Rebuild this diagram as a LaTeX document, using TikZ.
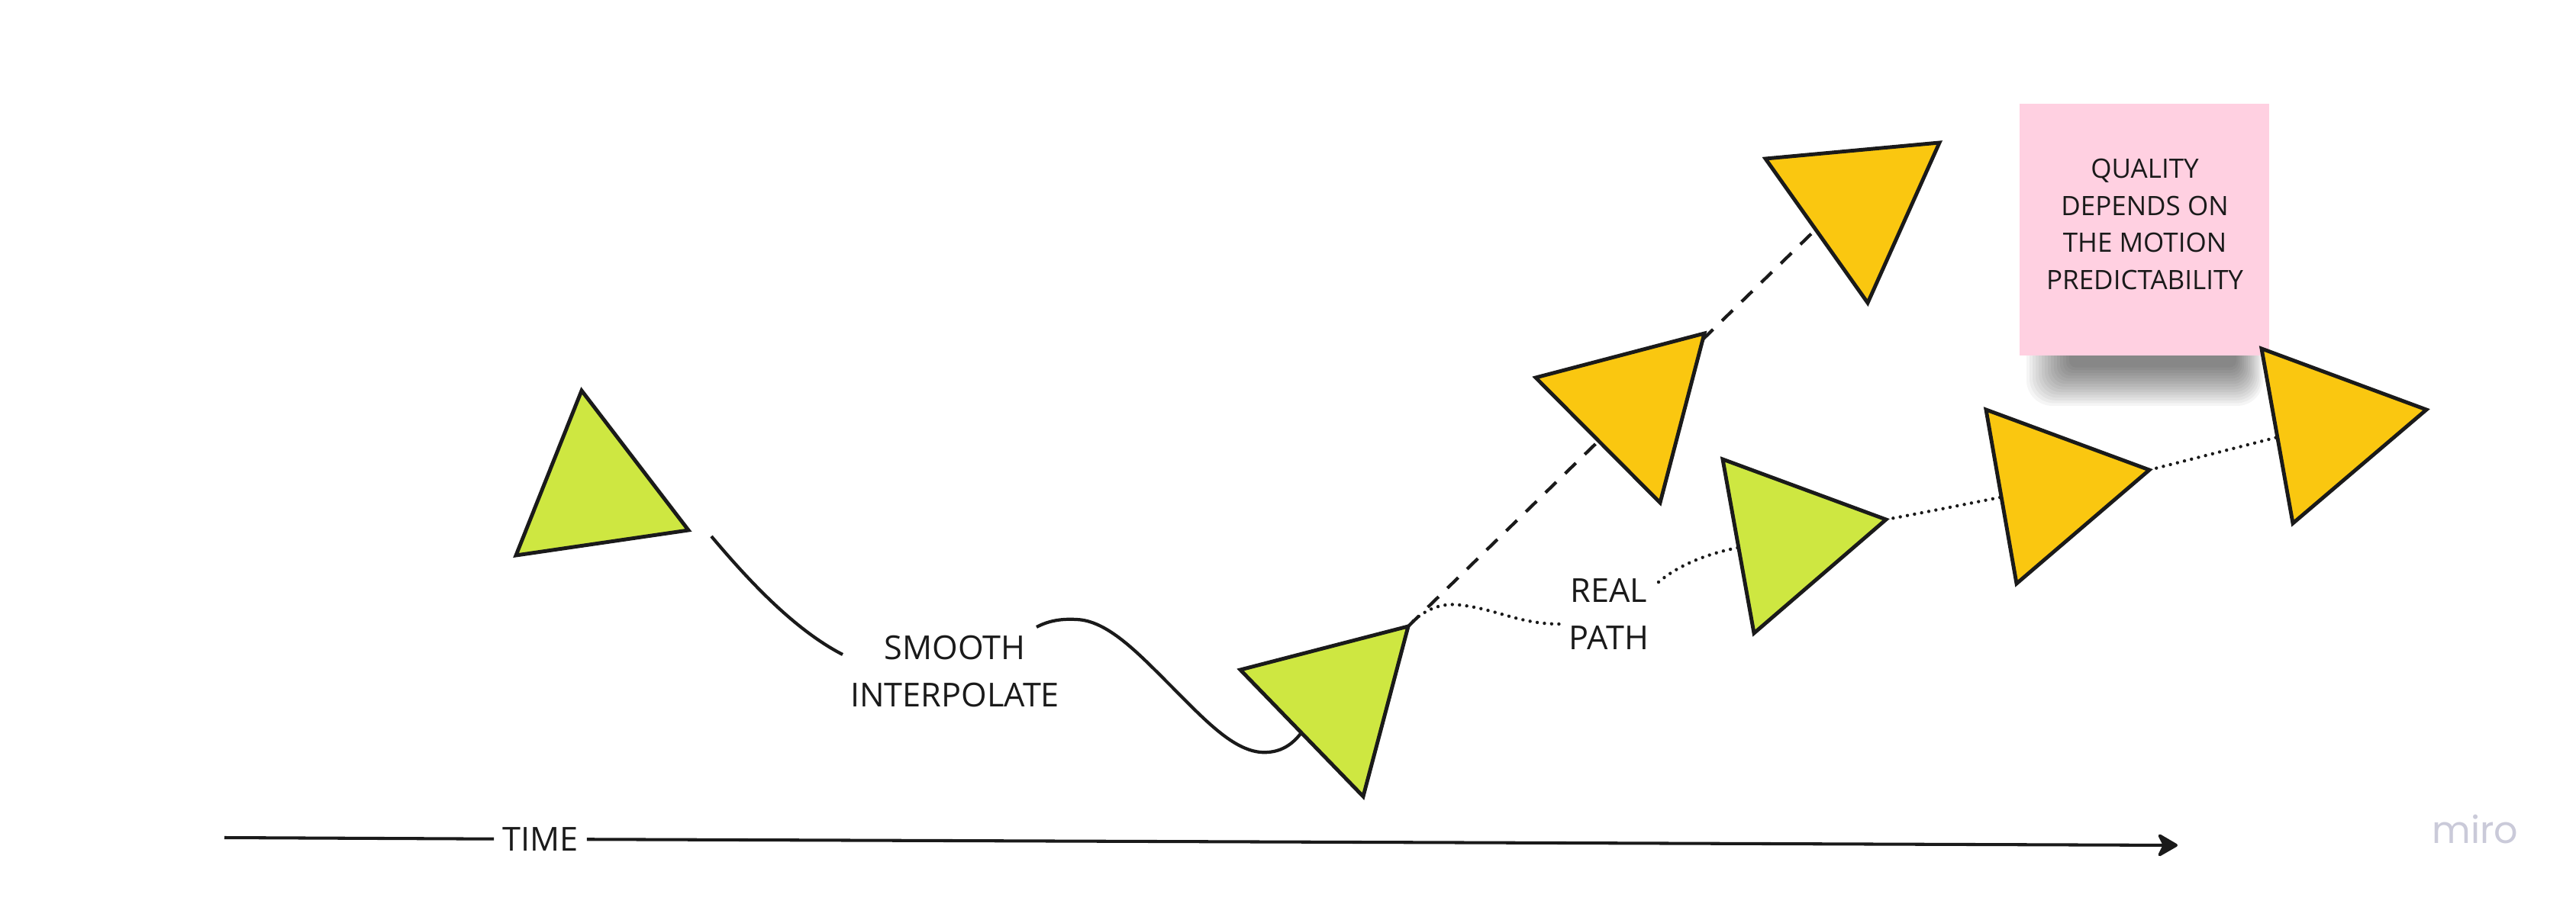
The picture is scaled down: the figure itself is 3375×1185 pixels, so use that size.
\documentclass[tikz,border=0pt]{standalone}
\usepackage{fontspec}
\setmainfont{Open Sans}
\newfontfamily\mirofont{Poppins}
\usetikzlibrary{arrows.meta}
\definecolor{ink}{HTML}{1A1A1A}
\definecolor{limeg}{HTML}{CEE741}
\definecolor{sunny}{HTML}{FAC710}
\definecolor{sticky}{HTML}{FFD0E1}
\definecolor{mirogray}{HTML}{CACAD9}
\tikzset{
  tri/.style={draw=ink, line width=1.4pt, line join=miter},
  greentri/.style={tri, fill=limeg},
  yellowtri/.style={tri, fill=sunny},
  smoothline/.style={draw=ink, line width=1.2pt},
  dashline/.style={draw=ink, line width=1.2pt, dash pattern=on 5.6pt off 4.6pt},
  dotline/.style={draw=ink, line width=1.25pt, line cap=round, dash pattern=on 0pt off 2.7pt},
  lbl/.style={font=\fontsize{12.3}{17.4}\selectfont, align=center, text=ink, inner sep=0pt},
  notetext/.style={font=\fontsize{9.95}{13.75}\selectfont, align=center, text=ink, inner sep=0pt},
  timeline/.style={draw=ink, line width=1.15pt},
  shadowlayer/.style={fill=black, fill opacity=0.04, draw=none},
}
\begin{document}
\begin{tikzpicture}[x=0.01cm, y=-0.01cm]
\useasboundingbox[fill=white] (0,0) rectangle (3375,1185);

% ---- sticky note with soft shadow
\foreach \i in {0,...,14} {
  \path[shadowlayer, rounded corners={(34-1.8*\i)*0.2845pt}]
    ({2655+4*\i},380) rectangle ({2965-2.5*\i},{532-3.6*\i});
}
\node[fill=sticky, minimum width=327*0.2845pt, minimum height=330*0.2845pt, inner sep=0pt, anchor=north west] (note) at (2645,135) {};
\node[notetext] (notetxt) at (2810,294) {QUALITY\\DEPENDS ON\\THE MOTION\\PREDICTABILITY};

% ---- triangle vertices
\coordinate (a1) at (762,512);  \coordinate (a2) at (902,695);  \coordinate (a3) at (676,728);
\coordinate (b1) at (1625,878); \coordinate (b2) at (1845,821); \coordinate (b3) at (1786,1044);
\coordinate (c1) at (2012,495); \coordinate (c2) at (2233,437); \coordinate (c3) at (2175,659);
\coordinate (d1) at (2313,208); \coordinate (d2) at (2541,187); \coordinate (d3) at (2447,397);
\coordinate (e1) at (2257,602); \coordinate (e2) at (2471,681); \coordinate (e3) at (2298,830);
\coordinate (f1) at (2602,537); \coordinate (f2) at (2816,616); \coordinate (f3) at (2642,765);
\coordinate (g1) at (2963,457); \coordinate (g2) at (3179,537); \coordinate (g3) at (3004,686);

% ---- labels
\node[lbl] (smooth) at (1251,880) {SMOOTH\\INTERPOLATE};
\node[lbl] (real) at (2108,805) {REAL\\PATH};

% ---- connector ends
\coordinate (s0) at (932,703);
\coordinate (s1) at (1104,858);
\coordinate (s2) at (1358,822);
\coordinate (s3) at (1712,950);
\coordinate (r1) at (2043,818);
\coordinate (r2) at (2173,763);
\coordinate (r3) at (2287,716);
\coordinate (r4) at (2630,650);
\coordinate (r5) at (2988,572);
\coordinate (q1) at (2392,288);

% ---- smooth interpolation curve
\draw[smoothline] (s0) .. controls (980,760) and (1040,825) .. (s1);
\draw[smoothline] (s2) .. controls (1375,813) and (1392,811) .. (1410,812)
   .. controls (1450,813) and (1490,855) .. (1530,895)
   .. controls (1580,945) and (1620,990) .. (1662,986)
   .. controls (1685,984) and (1700,970) .. (s3);

% ---- dashed extrapolation
\draw[dashline] (b2) -- (q1);

% ---- dotted real path
\draw[dotline] (b2) .. controls (1865,798) and (1890,790) .. (1912,793)
   .. controls (1960,798) and (1990,818) .. (r1);
\draw[dotline] (r2) .. controls (2200,740) and (2240,724) .. (r3);
\draw[dotline] (e2) .. controls (2530,670) and (2580,660) .. (r4);
\draw[dotline] (f2) -- (r5);

% ---- triangles
\draw[greentri]  (a1) -- (a2) -- (a3) -- cycle;
\draw[greentri]  (b1) -- (b2) -- (b3) -- cycle;
\draw[yellowtri] (c1) -- (c2) -- (c3) -- cycle;
\draw[yellowtri] (d1) -- (d2) -- (d3) -- cycle;
\draw[greentri]  (e1) -- (e2) -- (e3) -- cycle;
\draw[yellowtri] (f1) -- (f2) -- (f3) -- cycle;
\draw[yellowtri] (g1) -- (g2) -- (g3) -- cycle;

% ---- time axis
\coordinate (tl) at (294,1098);
\coordinate (tr) at (2853,1108);
\node[lbl, inner xsep=3pt] (time) at (708,1100) {TIME};
\draw[timeline] (tl) -- (time);
\draw[timeline, -{Stealth[length=8.5pt, width=9.8pt, inset=2.4pt, round]}] (time) -- (tr);

% ---- logo
\node[font=\mirofont\fontsize{14}{16}\selectfont, text=mirogray, inner sep=0pt, anchor=base] (miro) at (3243,1105) {miro};
\end{tikzpicture}
\end{document}
